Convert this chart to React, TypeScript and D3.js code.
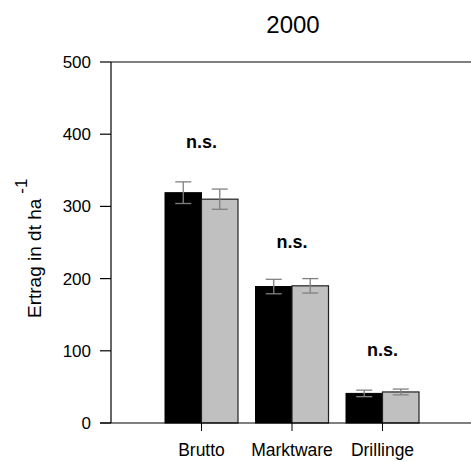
import React from "react";
import * as d3 from "d3";

const categories = ["Brutto", "Marktware", "Drillinge"];
const seriesA = [319, 189, 41];
const errA = [15, 10, 4.5];
const seriesB = [310, 190, 43];
const errB = [14, 10, 4];
const sigLabels = ["n.s.", "n.s.", "n.s."];
const sigValues = [381, 243, 93];
const yTicks = [0, 100, 200, 300, 400, 500];
const title = "2000";

const W = 471;
const H = 462;
const FONT = "Liberation Sans, Arial, sans-serif";

export default function App() {
  const x = d3.scaleLinear().domain([0, 4]).range([111, 473]);
  const y = d3.scaleLinear().domain([0, 500]).range([423, 62]);
  const bw = 36.5;
  const cap = 8;

  return (
    <svg
      width={W}
      height={H}
      style={{ position: "absolute", left: 0, top: 0, background: "#fff" }}
      fontFamily={FONT}
    >
      <text x={293} y={33} fontSize={24} textAnchor="middle" fill="#000">
        {title}
      </text>
      {categories.map((c, i) => {
        const cx = x(i + 1);
        return (
          <g key={c}>
            <rect x={cx - bw} y={y(seriesA[i])} width={bw} height={y(0) - y(seriesA[i])} fill="#000" stroke="#000" strokeWidth={1} />
            <rect x={cx} y={y(seriesB[i])} width={bw} height={y(0) - y(seriesB[i])} fill="#c0c0c0" stroke="#222" strokeWidth={1.2} />
            {[
              { m: cx - bw / 2, v: seriesA[i], e: errA[i] },
              { m: cx + bw / 2, v: seriesB[i], e: errB[i] },
            ].map((d, j) => (
              <g key={j} stroke="#808080" strokeWidth={1.3}>
                <line x1={d.m} x2={d.m} y1={y(d.v + d.e)} y2={y(d.v - d.e)} />
                <line x1={d.m - cap} x2={d.m + cap} y1={y(d.v + d.e)} y2={y(d.v + d.e)} />
                <line x1={d.m - cap} x2={d.m + cap} y1={y(d.v - d.e)} y2={y(d.v - d.e)} />
              </g>
            ))}
            <text x={cx} y={y(sigValues[i])} fontSize={18} fontWeight="bold" textAnchor="middle" fill="#000">
              {sigLabels[i]}
            </text>
            <line x1={cx} x2={cx} y1={y(0)} y2={y(0) + 8} stroke="#000" strokeWidth={1} />
            <text x={cx} y={456} fontSize={17.5} textAnchor="middle" fill="#000">
              {c}
            </text>
          </g>
        );
      })}
      <line x1={x(0)} x2={x(0)} y1={y(500)} y2={y(0)} stroke="#000" strokeWidth={1.2} />
      <line x1={x(0)} x2={x(4)} y1={y(500)} y2={y(500)} stroke="#000" strokeWidth={1.2} />
      <line x1={100} x2={x(4)} y1={y(0)} y2={y(0)} stroke="#000" strokeWidth={1.2} />
      {yTicks.map((t) => (
        <g key={t}>
          <line x1={100} x2={x(0)} y1={y(t)} y2={y(t)} stroke="#000" strokeWidth={1.2} />
          <text x={91} y={y(t) + 6} fontSize={17} textAnchor="end" fill="#000">
            {t}
          </text>
        </g>
      ))}
      <text transform={`translate(41, 318) rotate(-90)`} fontSize={19} textAnchor="start" fill="#000">
        Ertrag in dt ha
        <tspan dx={5} dy={-14} fontSize={17}>-1</tspan>
      </text>
    </svg>
  );
}
